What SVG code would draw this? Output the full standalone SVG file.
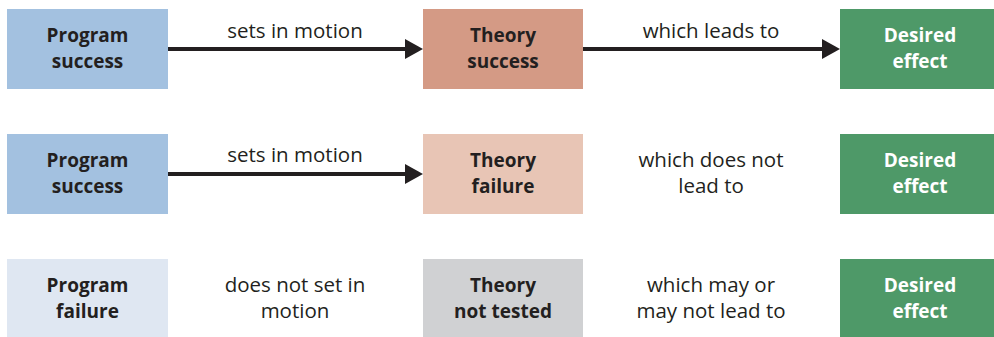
<svg xmlns="http://www.w3.org/2000/svg" width="994" height="337" viewBox="0 0 994 337">
<defs>
<style>
.b{font-family:"Open Sans","Noto Sans",sans-serif;font-weight:bold;font-size:19px;text-anchor:middle;fill:#231f20}
.w{fill:#ffffff}
.l{font-family:"Open Sans","Noto Sans",sans-serif;font-size:20.5px;text-anchor:middle;fill:#231f20}
.c{stroke:#231f20;stroke-width:4;fill:none}
</style>
<marker id="ah" markerUnits="userSpaceOnUse" markerWidth="20" markerHeight="22" refX="1" refY="10" orient="auto">
<path d="M0,0 L18,10 L0,20 Z" fill="#231f20"/>
</marker>
</defs>
<rect width="994" height="337" fill="#ffffff"/>
<g id="connectors">
<line class="c" x1="168" y1="49" x2="406" y2="49" marker-end="url(#ah)"/>
<line class="c" x1="583" y1="49" x2="823" y2="49" marker-end="url(#ah)"/>
<line class="c" x1="168" y1="174" x2="406" y2="174" marker-end="url(#ah)"/>
</g>
<g id="labels">
<text class="l" x="295" y="38">sets in motion</text>
<text class="l" x="711" y="38">which leads to</text>
<text class="l" x="295" y="162">sets in motion</text>
<text class="l" x="711" y="167">which does not</text>
<text class="l" x="711" y="193">lead to</text>
<text class="l" x="295" y="292">does not set in</text>
<text class="l" x="295" y="318">motion</text>
<text class="l" x="711" y="292">which may or</text>
<text class="l" x="711" y="318">may not lead to</text>
</g>
<g id="n1"><rect x="7" y="9" width="161" height="80" fill="#a3c1e0"/><text class="b" x="87.5" y="42">Program</text><text class="b" x="87.5" y="68">success</text></g>
<g id="n2"><rect x="423" y="9" width="160" height="80" fill="#d49a85"/><text class="b" x="503" y="42">Theory</text><text class="b" x="503" y="68">success</text></g>
<g id="n3"><rect x="840" y="9" width="160" height="80" fill="#4e9968"/><text class="b w" x="920" y="42">Desired</text><text class="b w" x="920" y="68">effect</text></g>
<g id="n4"><rect x="7" y="134" width="161" height="80" fill="#a3c1e0"/><text class="b" x="87.5" y="167">Program</text><text class="b" x="87.5" y="193">success</text></g>
<g id="n5"><rect x="423" y="134" width="160" height="80" fill="#e8c5b5"/><text class="b" x="503" y="167">Theory</text><text class="b" x="503" y="193">failure</text></g>
<g id="n6"><rect x="840" y="134" width="160" height="80" fill="#4e9968"/><text class="b w" x="920" y="167">Desired</text><text class="b w" x="920" y="193">effect</text></g>
<g id="n7"><rect x="7" y="259" width="161" height="80" fill="#dfe7f2"/><text class="b" x="87.5" y="292">Program</text><text class="b" x="87.5" y="318">failure</text></g>
<g id="n8"><rect x="423" y="259" width="160" height="80" fill="#d0d1d3"/><text class="b" x="503" y="292">Theory</text><text class="b" x="503" y="318">not tested</text></g>
<g id="n9"><rect x="840" y="259" width="160" height="80" fill="#4e9968"/><text class="b w" x="920" y="292">Desired</text><text class="b w" x="920" y="318">effect</text></g>
</svg>
